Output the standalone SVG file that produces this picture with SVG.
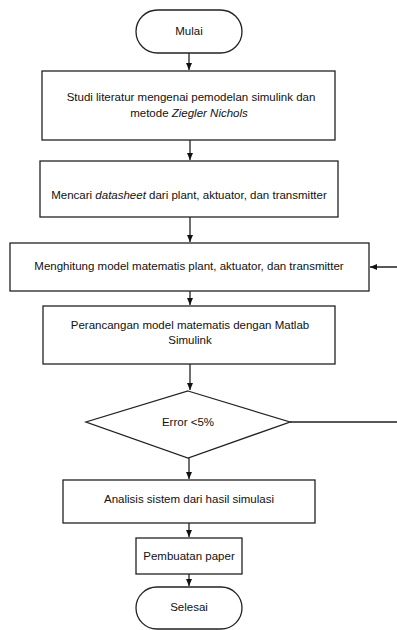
<svg xmlns="http://www.w3.org/2000/svg" width="397" height="630" viewBox="0 0 397 630">
<defs>
<marker id="ah" markerUnits="userSpaceOnUse" markerWidth="8" markerHeight="7" refX="7" refY="3" orient="auto">
<path d="M0,0 L7,3 L0,6 z" fill="#111"/>
</marker>
<style>
.s{fill:#fff;stroke:#222;stroke-width:1.3}
.t{font-family:"Liberation Sans",Arial,sans-serif;font-size:11.5px;fill:#111;text-anchor:middle;dominant-baseline:central}
.c{fill:none;stroke:#222;stroke-width:1.3}
</style>
</defs>
<rect width="397" height="630" fill="#fff"/>
<g id="connectors">
<path class="c" d="M189,53 V70" marker-end="url(#ah)"/>
<path class="c" d="M190,140 V160" marker-end="url(#ah)"/>
<path class="c" d="M190,217 V242" marker-end="url(#ah)"/>
<path class="c" d="M190,291 V305" marker-end="url(#ah)"/>
<path class="c" d="M190,364 V390" marker-end="url(#ah)"/>
<path class="c" d="M189,458 V479" marker-end="url(#ah)"/>
<path class="c" d="M189,523 V537" marker-end="url(#ah)"/>
<path class="c" d="M189,574 V586" marker-end="url(#ah)"/>
<path class="c" d="M290,422 H399 V267 H370" marker-end="url(#ah)"/>
</g>
<g id="mulai">
<rect class="s" x="136" y="10" width="106" height="43" rx="21.5"/>
<text class="t" x="189" y="31">Mulai</text>
</g>
<g id="studi">
<rect class="s" x="42" y="71" width="293" height="69"/>
<text class="t" x="191" y="97">Studi literatur mengenai pemodelan simulink dan</text>
<text class="t" x="189" y="113">metode <tspan font-style="italic">Ziegler Nichols</tspan></text>
</g>
<g id="mencari">
<rect class="s" x="40" y="161" width="298" height="56"/>
<text class="t" x="189" y="195">Mencari <tspan font-style="italic">datasheet</tspan> dari plant, aktuator, dan transmitter</text>
</g>
<g id="menghitung">
<rect class="s" x="10" y="243" width="359" height="48"/>
<text class="t" x="189" y="266">Menghitung model matematis plant, aktuator, dan transmitter</text>
</g>
<g id="perancangan">
<rect class="s" x="43" y="306" width="292" height="58"/>
<text class="t" x="190" y="325">Perancangan model matematis dengan Matlab</text>
<text class="t" x="190" y="340">Simulink</text>
</g>
<g id="error">
<polygon class="s" points="188,391 290,422 188,458 86,422"/>
<text class="t" x="188" y="422">Error  &lt;5%</text>
</g>
<g id="analisis">
<rect class="s" x="63" y="480" width="252" height="43"/>
<text class="t" x="189" y="499">Analisis sistem dari hasil  simulasi</text>
</g>
<g id="pembuatan">
<rect class="s" x="136" y="538" width="106" height="36"/>
<text class="t" x="189" y="556">Pembuatan paper</text>
</g>
<g id="selesai">
<rect class="s" x="136" y="587" width="106" height="42" rx="21"/>
<text class="t" x="189" y="607">Selesai</text>
</g>
</svg>
